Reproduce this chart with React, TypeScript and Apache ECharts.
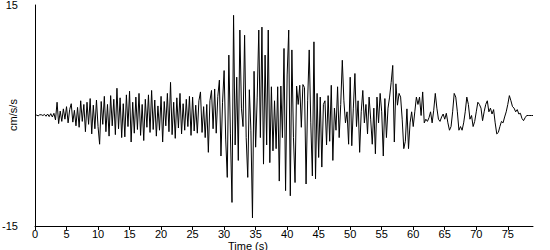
import React, { useEffect, useRef } from "react";
import * as echarts from "echarts";

const STEP = 0.25; // seconds between samples
// acceleration (cm/s/s), 4 samples per second, read from the record
const accel: number[] = [
  0, 0.05, -0.05, 0.1,
  0.1, 0, 0.15, -0.1,
  0.2, -0.15, 0.25, -0.2,
  0.3, -0.6, 1.8, -1.1,
  0.6, -0.8, 0.9, -0.5,
  1.2, -1.0, 0.8, 1.6,
  -0.9, 0.7, -1.4, 1.1,
  -1.6, 2.0, -0.8, 1.5,
  -2.2, 1.8, -1.2, 2.3,
  -2.5, 1.4, -1.8, 2.1,
  -1.5, -3.9, 1.9, -1.2,
  2.6, -2.2, 1.5, -2.8,
  2.7, -1.4, 2.2, -2.6,
  3.7, -1.8, 2.4, -3.0,
  1.6, -2.9, 2.8, -1.5,
  3.3, -3.6, 1.8, -2.4,
  2.5, -1.9, 3.0, -2.7,
  1.5, -3.4, 2.2, -1.6,
  2.8, -2.3, 3.4, -1.9,
  2.1, -2.8, 1.3, -2.0,
  2.6, -3.6, 1.9, -1.4,
  3.0, -2.2, 4.5, -2.6,
  1.8, -3.1, 2.4, -1.7,
  3.0, -2.5, 1.6, -2.0,
  2.2, -1.5, 2.6, -2.7,
  2.5, -2.1, 1.4, -2.4,
  2.0, 3.2, -2.3, 1.2,
  -3.0, 1.5, -5.0, 2.0,
  3.4, -1.8, 3.6, -2.4,
  2.6, 4.8, -5.5, 1.8,
  6.1, -3.2, -8.4, 8.2,
  -2.5, -11.8, 13.6, -4.0,
  5.2, -6.1, 11.6, 1.0,
  -1.5, 10.9, -3.0, -8.4,
  3.5, -2.0, -13.9, 6.0,
  -4.3, 2.5, 11.6, -3.0,
  12.0, -6.6, 8.2, -4.0,
  11.6, -6.4, 3.9, -4.8,
  2.0, -4.5, 3.9, -8.9,
  4.0, -3.0, 9.1, -10.2,
  5.5, 11.6, -10.9, 8.9,
  -3.0, -9.1, 4.0, 1.5,
  4.1, -1.6, 4.2, 3.8,
  -9.3, 2.0, 8.9, -1.0,
  -8.2, 10.0, -8.6, 3.0,
  -5.7, 2.5, -7.0, 1.5,
  2.0, -4.0, 2.7, -3.5,
  4.1, -6.1, 1.0, -2.0,
  3.9, -3.0, 1.5, 7.5,
  2.0, -1.0, 0.5, -3.9,
  5.2, -4.1, 1.0, 5.7,
  -1.5, 2.0, -5.0, 0.5,
  3.4, -1.0, 1.5, -2.5,
  2.5, -0.5, -3.9, 1.0,
  -5.2, 2.5, -1.0, 3.0,
  0.5, -5.5, 2.3, -3.0,
  1.0, 2.5, 4.5, 6.8,
  -3.6, 4.3, 1.4, 3.0,
  2.5, -0.5, -4.5, -3.5,
  0.9, -4.5, -1.0, 0.5,
  -1.5, 0.5, 2.5, 1.5,
  2.5, 0.0, 3.2, -1.0,
  -0.5, -0.8, -0.3, 0.5,
  -1.0, 0.7, 3.0, 1.0,
  -0.5, -0.8, -0.2, 0.2,
  -0.5, 0.3, -1.0, -2.0,
  -1.5, 0.5, 3.0, 2.5,
  0.5, -2.0, -1.5, -2.0,
  -1.0, 0.5, 2.5, 1.5,
  -0.5, 0.0, -1.5, -0.8,
  0.5, 1.8, 1.5, 1.0,
  -0.7, 0.5, 1.5, 2.0,
  0.5, 1.0, 0.2, 0.8,
  -1.0, -2.5, -2.3, -1.5,
  -0.8, -1.0, -0.2, 0.5,
  1.5, 2.7, 2.0, 1.2,
  1.0, 0.5, 0.8, 0.2,
  0.3, -0.4, -0.7, -0.3,
  0, 0, 0, 0,
  0,
];

const xTicks = [0, 5, 10, 15, 20, 25, 30, 35, 40, 45, 50, 55, 60, 65, 70, 75];
const yTickLabels = ["-15", "15"];
const xTitle = "Time (s)";
const yTitle = "cm/s/s";

export default function App() {
  const ref = useRef<HTMLDivElement>(null);
  useEffect(() => {
    if (!ref.current) return;
    const chart = echarts.init(ref.current, undefined, { renderer: "svg" });
    const points = accel.map((v, i) => [i * STEP, v]);
    const font = "'Liberation Sans', Arial, sans-serif";
    chart.setOption({
      animation: false,
      backgroundColor: "#ffffff",
      grid: {
        left: 35,
        right: 17,
        top: 5,
        bottom: 24,
        containLabel: false,
        outerBoundsMode: "none",
      },
      xAxis: {
        type: "value",
        min: 0,
        max: 79,
        interval: 5,
        axisLine: { show: true, onZero: false, lineStyle: { color: "#000000", width: 1 } },
        axisTick: { show: true, length: 4, lineStyle: { color: "#000000" } },
        axisLabel: {
          color: "#000000",
          fontFamily: font,
          fontSize: 11,
          margin: 2,
          showMaxLabel: false,
          formatter: (v: number) => (xTicks.includes(v) ? String(v) : ""),
        },
        splitLine: { show: false },
      },
      yAxis: {
        type: "value",
        min: -15,
        max: 15,
        interval: 15,
        axisLine: { show: true, onZero: false, lineStyle: { color: "#000000", width: 1 } },
        axisTick: { show: false },
        axisLabel: {
          color: "#000000",
          fontFamily: font,
          fontSize: 11,
          margin: 17,
          formatter: (v: number) => (yTickLabels.includes(String(v)) ? String(v) : ""),
        },
        splitLine: { show: false },
      },
      graphic: [
        {
          type: "text",
          left: 228,
          top: 240,
          style: { text: xTitle, fill: "#000000", font: `11px ${font}` },
        },
        {
          type: "text",
          x: 13,
          y: 115,
          rotation: Math.PI / 2,
          style: {
            text: yTitle,
            fill: "#000000",
            font: `11px ${font}`,
            align: "center",
            verticalAlign: "middle",
          },
        },
      ],
      series: [
        {
          type: "line",
          data: points,
          showSymbol: false,
          symbol: "none",
          lineStyle: { color: "#000000", width: 1 },
        },
      ],
    });
    return () => chart.dispose();
  }, []);
  return (
    <div
      ref={ref}
      style={{ position: "fixed", left: 0, top: 0, width: 550, height: 250 }}
    />
  );
}
